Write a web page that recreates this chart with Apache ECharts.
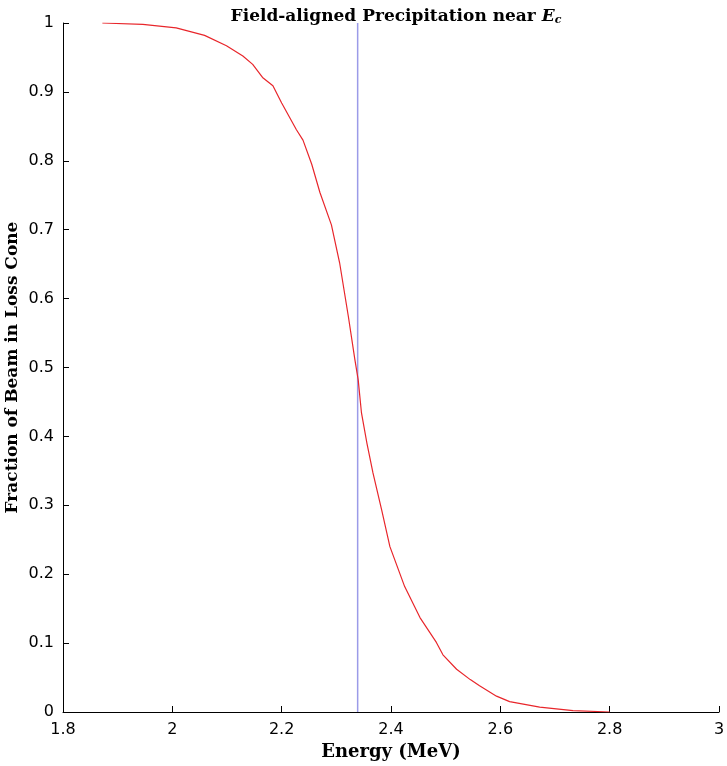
<!DOCTYPE html>
<html>
<head>
<meta charset="utf-8">
<script src="https://cdn.jsdelivr.net/npm/echarts@6/dist/echarts.min.js"></script>
<style>html,body{margin:0;padding:0;background:#fff}#c{width:727px;height:766px}</style>
</head>
<body>
<div id="c"></div>
<script>
var energy = [1.872,1.946,2.007,2.059,2.099,2.129,2.147,2.165,2.184,2.200,2.227,2.239,2.255,2.270,2.291,2.306,2.322,2.334,2.340,2.346,2.356,2.367,2.383,2.398,2.425,2.453,2.483,2.495,2.520,2.545,2.562,2.593,2.617,2.672,2.733,2.800];
var fraction = [1.000,0.998,0.993,0.982,0.967,0.952,0.940,0.921,0.909,0.884,0.845,0.830,0.795,0.754,0.707,0.652,0.574,0.511,0.482,0.434,0.390,0.347,0.293,0.240,0.182,0.137,0.101,0.083,0.062,0.047,0.038,0.023,0.015,0.007,0.002,0.000];
var criticalEnergy = 2.339;
var xTicks = [1.8,2,2.2,2.4,2.6,2.8,3];
var yTicks = [0,0.1,0.2,0.3,0.4,0.5,0.6,0.7,0.8,0.9,1];

var curve = energy.map(function(e,i){return [e,fraction[i]];});
var chart = echarts.init(document.getElementById('c'), null, {renderer:'canvas'});
var serif = '"DejaVu Serif", "Liberation Serif", serif';
var sans = '"DejaVu Sans", sans-serif';
chart.setOption({
  animation:false,
  backgroundColor:'#fff',
  title:{
    text:'Field-aligned Precipitation near {e|E}{c|c}',
    left:391, top:2, textAlign:'center',
    textStyle:{fontFamily:serif, fontWeight:'bold', fontSize:17, color:'#000',
      rich:{e:{fontFamily:serif,fontStyle:'italic',fontWeight:'bold',fontSize:17,color:'#000'},
            c:{fontFamily:serif,fontStyle:'italic',fontSize:11,color:'#000',padding:[8,0,0,0]}}}
  },
  grid:{left:63, right:8, top:23, bottom:54, containLabel:false, outerBoundsMode:'none'},
  xAxis:{
    type:'value', min:1.8, max:3, interval:0.2,
    name:'Energy (MeV)', nameLocation:'middle', nameGap:31, nameMoveOverlap:false,
    nameTextStyle:{fontFamily:serif, fontWeight:'bold', fontSize:18, color:'#000'},
    axisLine:{lineStyle:{color:'#000', width:1}},
    axisTick:{inside:true, length:6, lineStyle:{color:'#000'}},
    axisLabel:{fontFamily:sans, fontSize:16, color:'#000', margin:10,
      formatter:function(v){return xTicks.indexOf(Math.round(v*10)/10)>=0 ? String(Math.round(v*10)/10) : '';}},
    splitLine:{show:false}
  },
  yAxis:{
    type:'value', min:0, max:1, interval:0.1,
    name:'Fraction of Beam in Loss Cone', nameLocation:'middle', nameGap:42, nameMoveOverlap:false,
    nameTextStyle:{fontFamily:serif, fontWeight:'bold', fontSize:17, color:'#000'},
    axisLine:{show:true, lineStyle:{color:'#000', width:1}},
    axisTick:{show:true, inside:true, length:6, lineStyle:{color:'#000'}},
    axisLabel:{fontFamily:sans, fontSize:16, color:'#000', margin:9,
      formatter:function(v){var r=Math.round(v*10)/10; return yTicks.indexOf(r)>=0 ? String(r) : '';}},
    splitLine:{show:false}
  },
  series:[
    {type:'line', data:[[criticalEnergy,0],[criticalEnergy,1]], symbol:'none',
      lineStyle:{color:'#9b9be8', width:1.5}, z:2, silent:true},
    {type:'line', data:curve, symbol:'none', smooth:false,
      lineStyle:{color:'#e8262b', width:1.2}, z:3}
  ]
});
</script>
</body>
</html>
